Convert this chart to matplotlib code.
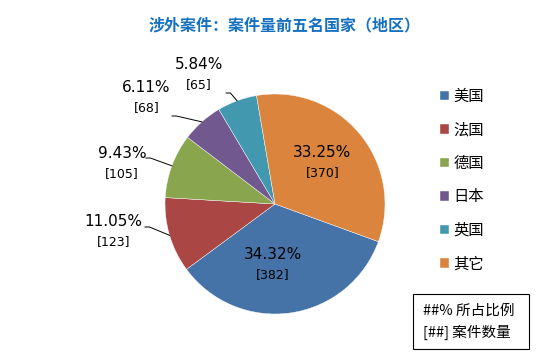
import matplotlib
matplotlib.use("Agg")
import numpy as np
import matplotlib.pyplot as plt
from matplotlib.patches import Rectangle

plt.rcParams['font.family'] = ['Noto Sans CJK SC', 'DejaVu Sans']

# 数据
countries = ['美国', '法国', '德国', '日本', '英国', '其它']
counts = [382, 123, 105, 68, 65, 370]
shares = ['34.32%', '11.05%', '9.43%', '6.11%', '5.84%', '33.25%']
colors = ['#4572A7', '#AA4643', '#89A54E', '#71588F', '#4198AF', '#DB843D']

# 标签位置（饼图坐标，半径为1）
label_pos = [(-0.02, -0.46), (-1.47, -0.16), (-1.39, 0.46),
             (-1.17, 1.055), (-0.69, 1.264), (0.43, 0.464)]
bracket_dy = 0.182
# 引导线起点，None 表示标签在扇区内
leader_start = [None, (-1.182, -0.209), (-1.173, 0.418),
                (-0.936, 0.80), (-0.445, 1.009), None]

fig = plt.figure(figsize=(5.51, 3.63), dpi=100)
ax = fig.add_axes([165 / 551, 49 / 363, 220 / 551, 220 / 363])

wedges, _ = ax.pie(counts, colors=colors, startangle=-20, counterclock=False,
                   radius=1, wedgeprops=dict(edgecolor='white', linewidth=0.3))
ax.set_xlim(-1, 1)
ax.set_ylim(-1, 1)
ax.set_aspect('auto')
ax.axis('off')

for w, pct, n, pos, st in zip(wedges, shares, counts, label_pos, leader_start):
    x, y = pos
    ax.text(x, y, pct, ha='center', va='center', fontsize=11,
            family='DejaVu Sans', color='black')
    ax.text(x, y - bracket_dy, '[%d]' % n, ha='center', va='center', fontsize=9,
            family='DejaVu Sans', color='black')
    if st is not None:
        mid = np.deg2rad((w.theta1 + w.theta2) / 2)
        ex, ey = np.cos(mid), np.sin(mid)
        ax.plot([st[0], st[0] + 0.04, ex], [st[1], st[1], ey],
                color='black', linewidth=0.7, clip_on=False)

fig.text(285 / 551, 1 - 25 / 363, '涉外案件：案件量前五名国家（地区）',
         ha='center', va='center', fontsize=11.5, weight='bold', color='#1470C0')

fig.legend(wedges, countries, loc='upper left',
           bbox_to_anchor=(440 / 551, 1 - 88 / 363), frameon=False,
           fontsize=11, handlelength=0.6, handleheight=0.6, handletextpad=0.3,
           labelspacing=1.08, borderpad=0, borderaxespad=0)

fig.add_artist(Rectangle((413 / 551, 1 - 349 / 363), 116 / 551, 55 / 363,
                         transform=fig.transFigure, fill=False,
                         edgecolor='black', linewidth=0.8))
fig.text(423 / 551, 1 - 311 / 363, '##% 所占比例', va='center', fontsize=10.5)
fig.text(423 / 551, 1 - 332 / 363, '[##] 案件数量', va='center', fontsize=10.5)

fig.savefig('out.png', dpi=100)
